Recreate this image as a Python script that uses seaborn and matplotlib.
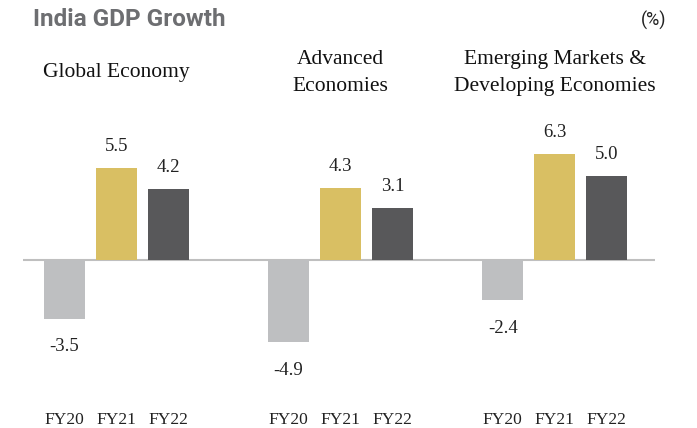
import matplotlib
matplotlib.use("Agg")
import matplotlib.pyplot as plt
import matplotlib.transforms as mtransforms
import seaborn as sns
import pandas as pd

# ---- data ----
years = ["FY20", "FY21", "FY22"]
panels = ["Global Economy", "Advanced\nEconomies", "Emerging Markets &\nDeveloping Economies"]
global_economy = [-3.5, 5.5, 4.2]
advanced_economies = [-4.9, 4.3, 3.1]
emerging_economies = [-2.4, 6.3, 5.0]
series = [global_economy, advanced_economies, emerging_economies]
colors = ["#bebfc1", "#d9bf63", "#58585a"]
title = "India GDP Growth"
unit = "(%)"

sns.set_theme(style="white")
plt.rcParams["font.family"] = ["Liberation Serif", "DejaVu Serif"]

W, H = 697, 428
fig = plt.figure(figsize=(W / 100, H / 100), dpi=100)

# axes layout in pixels (left, right) and x-limits
ax_px = [(23, 228), (228, 447), (447, 655)]
xlims = [(-0.79, 3.15), (-1.16, 3.05), (-1.07, 2.93)]
top_px, bot_px = 130, 395
ylim = (-8.04, 7.74)

palette = dict(zip(years, colors))

for i, (panel, vals) in enumerate(zip(panels, series)):
    l, r = ax_px[i]
    ax = fig.add_axes([l / W, (H - bot_px) / H, (r - l) / W, (bot_px - top_px) / H])
    df = pd.DataFrame({"year": years, "value": vals})
    sns.barplot(data=df, x="year", y="value", hue="year", palette=palette,
                width=0.79, legend=False, ax=ax, saturation=1, linewidth=0)
    ax.set_xlim(*xlims[i])
    ax.set_ylim(*ylim)
    ax.axhline(0, color="#bfbfbf", lw=1.5, zorder=0.5)
    for s in ax.spines.values():
        s.set_visible(False)
    ax.set_yticks([])
    ax.set_xlabel("")
    ax.set_ylabel("")
    ax.tick_params(axis="x", length=0, pad=12, labelsize=12.5, colors="#222222")
    for lab in ax.get_xticklabels():
        lab.set_fontfamily(["Liberation Serif", "DejaVu Serif"])
    for j, v in enumerate(vals):
        off = 15.5 if v >= 0 else -20
        ax.annotate(f"{v:.1f}", (j, v), xytext=(0, off), textcoords="offset points",
                    ha="center", va="center", fontsize=13.5, color="#222222")
    tr = mtransforms.blended_transform_factory(ax.transData, fig.transFigure)
    ax.text(1, 1 - 73 / H, panel, transform=tr, ha="center", va="center",
            fontsize=15.5, color="#111111", linespacing=1.55)

fig.text(33 / W, 1 - 19 / H, title, ha="left", va="center", fontsize=17.5,
         fontweight="bold", color="#6d6e71", family=["Roboto", "DejaVu Sans"])
fig.text(666 / W, 1 - 20 / H, unit, ha="right", va="center", fontsize=13,
         color="#222222", family=["Roboto", "DejaVu Sans"])

fig.savefig("out.png", dpi=100)
